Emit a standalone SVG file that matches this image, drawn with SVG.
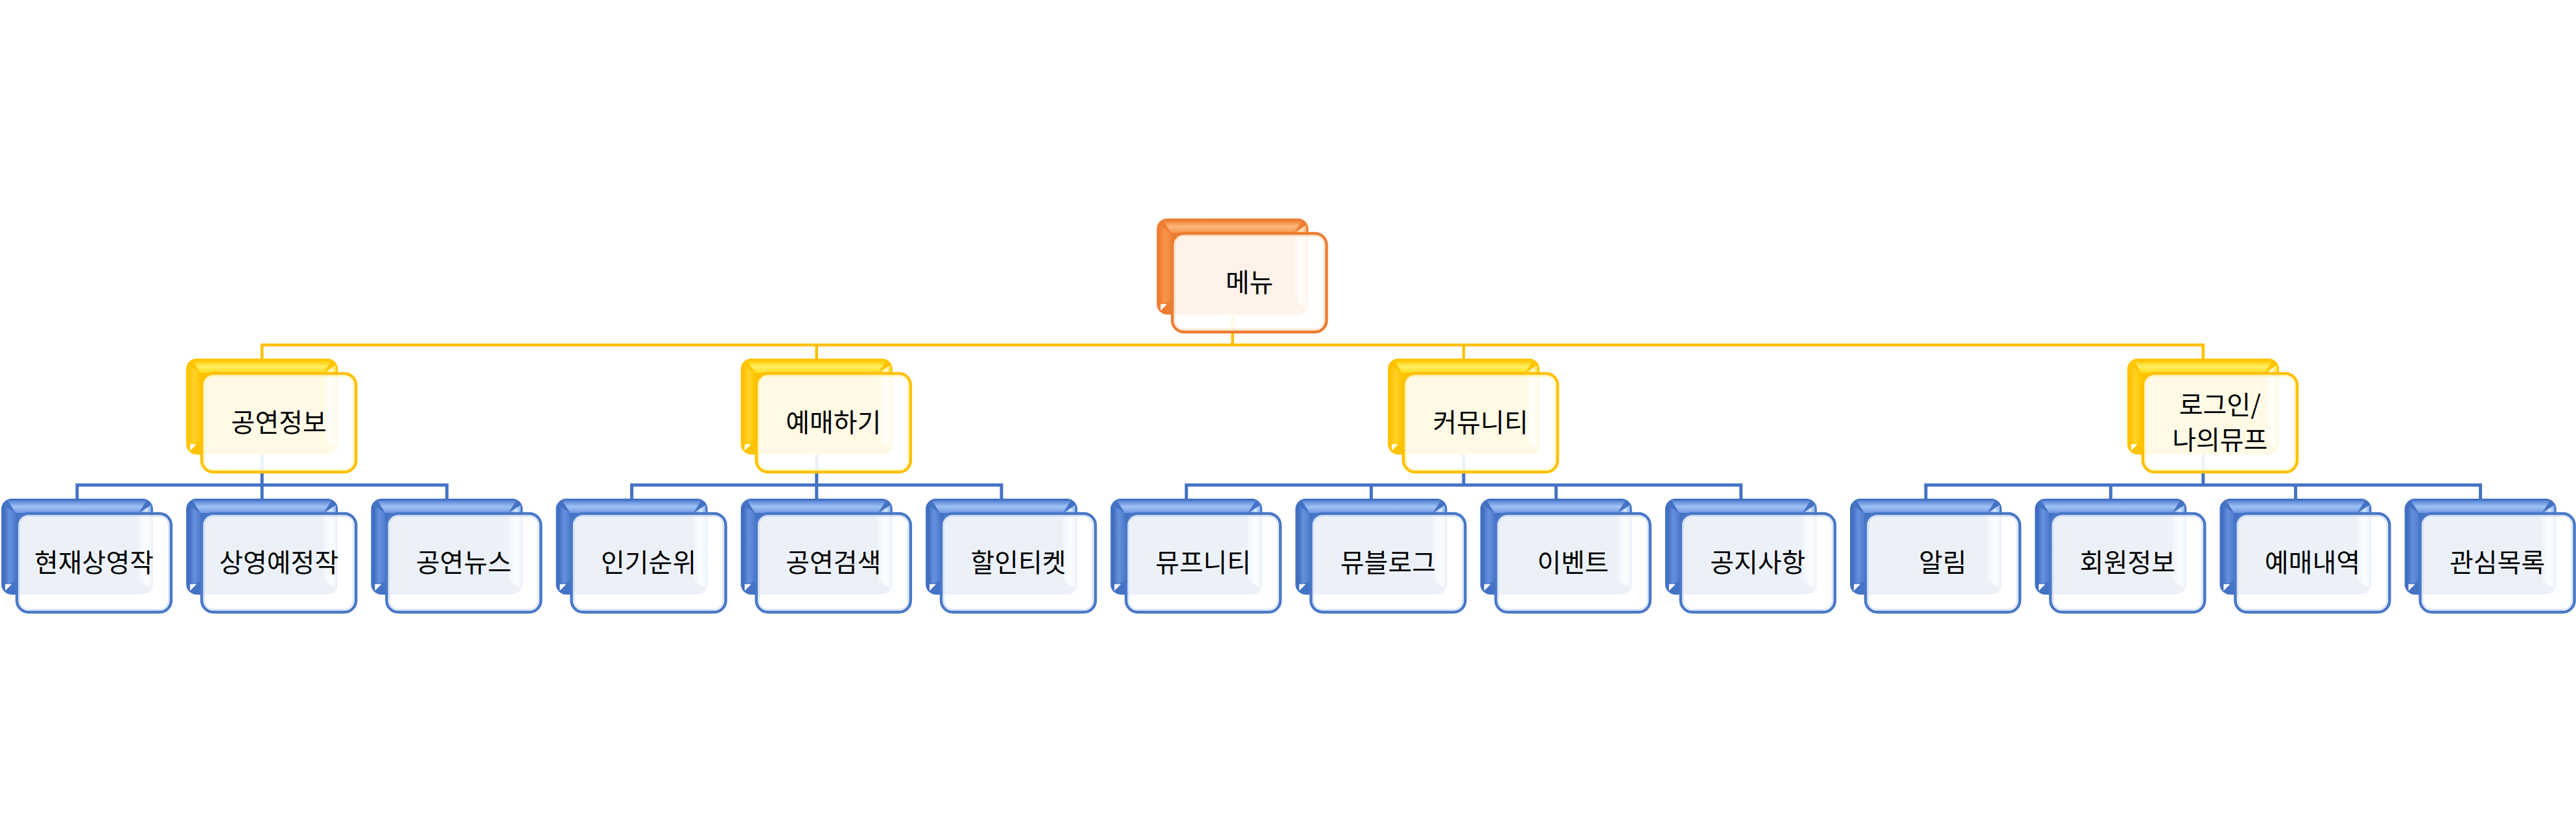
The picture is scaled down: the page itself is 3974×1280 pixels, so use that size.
<svg xmlns="http://www.w3.org/2000/svg" xmlns:xlink="http://www.w3.org/1999/xlink" width="3974" height="1280" viewBox="0 0 3974 1280">
<style>
.conn{fill:none;stroke-width:4.5;stroke-linejoin:miter}
.cy{stroke:#FFC000}
.cb{stroke:#4472C4;stroke-width:5}
.fb{fill:#fff;fill-opacity:0.9;stroke-width:4.5}
.fo{stroke:#ED7D31}
.fy{stroke:#FFC000}
.fbl{stroke:#4A78C8}
.hi{fill:none;stroke-width:2;stroke-opacity:0.7}
.ho{stroke:#FFD9B0}
.hy{stroke:#FFF2A0}
.hb{stroke:#C6D8F6}
.t{font-family:"Noto Sans CJK KR","Noto Sans CJK SC",sans-serif;font-size:40px;fill:#000;text-anchor:middle}
</style>
<defs>
<linearGradient id="bTop" x1="0" y1="0" x2="0" y2="1"><stop offset="0" stop-color="#5784D6"/><stop offset="0.5" stop-color="#A0C2F4"/><stop offset="1" stop-color="#7099E4"/></linearGradient>
<linearGradient id="bLeft" x1="0" y1="0" x2="1" y2="0"><stop offset="0" stop-color="#3B68BC"/><stop offset="0.5" stop-color="#6690DC"/><stop offset="1" stop-color="#4E7CCE"/></linearGradient>
<linearGradient id="bRight" x1="0" y1="0" x2="1" y2="0"><stop offset="0" stop-color="#6E9AE6"/><stop offset="0.6" stop-color="#D8E8FF"/><stop offset="1" stop-color="#88B0EE"/></linearGradient>
<linearGradient id="yTop" x1="0" y1="0" x2="0" y2="1"><stop offset="0" stop-color="#FFC800"/><stop offset="0.5" stop-color="#FFEE60"/><stop offset="1" stop-color="#FFDC20"/></linearGradient>
<linearGradient id="yLeft" x1="0" y1="0" x2="1" y2="0"><stop offset="0" stop-color="#FFBE00"/><stop offset="0.5" stop-color="#FFD228"/><stop offset="1" stop-color="#FFC600"/></linearGradient>
<linearGradient id="yRight" x1="0" y1="0" x2="1" y2="0"><stop offset="0" stop-color="#FFD000"/><stop offset="0.6" stop-color="#FFFAD0"/><stop offset="1" stop-color="#FFE040"/></linearGradient>
<linearGradient id="oTop" x1="0" y1="0" x2="0" y2="1"><stop offset="0" stop-color="#EE8034"/><stop offset="0.5" stop-color="#FDB77A"/><stop offset="1" stop-color="#F39650"/></linearGradient>
<linearGradient id="oLeft" x1="0" y1="0" x2="1" y2="0"><stop offset="0" stop-color="#EC7A2E"/><stop offset="0.5" stop-color="#F5964A"/><stop offset="1" stop-color="#F08638"/></linearGradient>
<linearGradient id="oRight" x1="0" y1="0" x2="1" y2="0"><stop offset="0" stop-color="#F39A50"/><stop offset="0.6" stop-color="#FFE8C8"/><stop offset="1" stop-color="#F6AE6E"/></linearGradient>
<g id="backB">
<rect width="234" height="148" rx="16" fill="#4472C4"/>
<path d="M10 3 H224 L212 22 H22 Z" fill="url(#bTop)"/>
<path d="M3 10 L22 22 V126 L3 138 Z" fill="url(#bLeft)"/>
<path d="M231 10 L212 22 V126 L231 138 Z" fill="url(#bRight)"/>
<path d="M6 132 L16 132 L6 142 Z" fill="#fff"/>
</g>
<g id="backY">
<rect width="234" height="148" rx="16" fill="#FFC400"/>
<path d="M10 3 H224 L212 22 H22 Z" fill="url(#yTop)"/>
<path d="M3 10 L22 22 V126 L3 138 Z" fill="url(#yLeft)"/>
<path d="M231 10 L212 22 V126 L231 138 Z" fill="url(#yRight)"/>
<path d="M6 132 L16 132 L6 142 Z" fill="#fff"/>
</g>
<g id="backO">
<rect width="234" height="148" rx="16" fill="#ED7D31"/>
<path d="M10 3 H224 L212 22 H22 Z" fill="url(#oTop)"/>
<path d="M3 10 L22 22 V126 L3 138 Z" fill="url(#oLeft)"/>
<path d="M231 10 L212 22 V126 L231 138 Z" fill="url(#oRight)"/>
<path d="M6 132 L16 132 L6 142 Z" fill="#fff"/>
</g>
</defs>
<rect width="3974" height="1280" fill="#fff"/>
<g id="connectors">
<path class="conn cy" d="M1901.5 485 V532"/>
<path class="conn cy" d="M404.2 560 V532 H3398.8 V560"/>
<path class="conn cy" d="M1259.8 532 V560"/>
<path class="conn cy" d="M2258 532 V560"/>
<path class="conn cb" d="M404.2 701 V748"/>
<path class="conn cb" d="M119 776 V748 H689.4 V776"/>
<path class="conn cb" d="M404.2 748 V776"/>
<path class="conn cb" d="M1259.8 701 V748"/>
<path class="conn cb" d="M974.6 776 V748 H1545 V776"/>
<path class="conn cb" d="M1259.8 748 V776"/>
<path class="conn cb" d="M2258 701 V748"/>
<path class="conn cb" d="M1830.2 776 V748 H2685.8 V776"/>
<path class="conn cb" d="M2115.4 748 V776"/>
<path class="conn cb" d="M2400.6 748 V776"/>
<path class="conn cb" d="M3398.8 701 V748"/>
<path class="conn cb" d="M2971 776 V748 H3826.6 V776"/>
<path class="conn cb" d="M3256.2 748 V776"/>
<path class="conn cb" d="M3541.4 748 V776"/>
</g>
<g id="n-root" transform="translate(1784.5 337)"><use xlink:href="#backO"/><rect class="fb fo" x="24" y="23" width="238" height="152" rx="18"/><rect class="hi ho" x="28" y="27" width="230" height="144" rx="14"/><text class="t" x="143" y="113">메뉴</text></g>
<g id="n-1" transform="translate(287.2 553)"><use xlink:href="#backY"/><rect class="fb fy" x="24" y="23" width="238" height="152" rx="18"/><rect class="hi hy" x="28" y="27" width="230" height="144" rx="14"/><text class="t" x="143" y="113">공연정보</text></g>
<g id="n-2" transform="translate(1142.8 553)"><use xlink:href="#backY"/><rect class="fb fy" x="24" y="23" width="238" height="152" rx="18"/><rect class="hi hy" x="28" y="27" width="230" height="144" rx="14"/><text class="t" x="143" y="113">예매하기</text></g>
<g id="n-3" transform="translate(2141 553)"><use xlink:href="#backY"/><rect class="fb fy" x="24" y="23" width="238" height="152" rx="18"/><rect class="hi hy" x="28" y="27" width="230" height="144" rx="14"/><text class="t" x="143" y="113">커뮤니티</text></g>
<g id="n-4" transform="translate(3281.8 553)"><use xlink:href="#backY"/><rect class="fb fy" x="24" y="23" width="238" height="152" rx="18"/><rect class="hi hy" x="28" y="27" width="230" height="144" rx="14"/><text class="t" x="143" y="86">로그인/</text><text class="t" x="143" y="140">나의뮤프</text></g>
<g id="n-1-1" transform="translate(2 769)"><use xlink:href="#backB"/><rect class="fb fbl" x="24" y="23" width="238" height="152" rx="18"/><rect class="hi hb" x="28" y="27" width="230" height="144" rx="14"/><text class="t" x="143" y="113">현재상영작</text></g>
<g id="n-1-2" transform="translate(287.2 769)"><use xlink:href="#backB"/><rect class="fb fbl" x="24" y="23" width="238" height="152" rx="18"/><rect class="hi hb" x="28" y="27" width="230" height="144" rx="14"/><text class="t" x="143" y="113">상영예정작</text></g>
<g id="n-1-3" transform="translate(572.4 769)"><use xlink:href="#backB"/><rect class="fb fbl" x="24" y="23" width="238" height="152" rx="18"/><rect class="hi hb" x="28" y="27" width="230" height="144" rx="14"/><text class="t" x="143" y="113">공연뉴스</text></g>
<g id="n-2-1" transform="translate(857.6 769)"><use xlink:href="#backB"/><rect class="fb fbl" x="24" y="23" width="238" height="152" rx="18"/><rect class="hi hb" x="28" y="27" width="230" height="144" rx="14"/><text class="t" x="143" y="113">인기순위</text></g>
<g id="n-2-2" transform="translate(1142.8 769)"><use xlink:href="#backB"/><rect class="fb fbl" x="24" y="23" width="238" height="152" rx="18"/><rect class="hi hb" x="28" y="27" width="230" height="144" rx="14"/><text class="t" x="143" y="113">공연검색</text></g>
<g id="n-2-3" transform="translate(1428 769)"><use xlink:href="#backB"/><rect class="fb fbl" x="24" y="23" width="238" height="152" rx="18"/><rect class="hi hb" x="28" y="27" width="230" height="144" rx="14"/><text class="t" x="143" y="113">할인티켓</text></g>
<g id="n-3-1" transform="translate(1713.2 769)"><use xlink:href="#backB"/><rect class="fb fbl" x="24" y="23" width="238" height="152" rx="18"/><rect class="hi hb" x="28" y="27" width="230" height="144" rx="14"/><text class="t" x="143" y="113">뮤프니티</text></g>
<g id="n-3-2" transform="translate(1998.4 769)"><use xlink:href="#backB"/><rect class="fb fbl" x="24" y="23" width="238" height="152" rx="18"/><rect class="hi hb" x="28" y="27" width="230" height="144" rx="14"/><text class="t" x="143" y="113">뮤블로그</text></g>
<g id="n-3-3" transform="translate(2283.6 769)"><use xlink:href="#backB"/><rect class="fb fbl" x="24" y="23" width="238" height="152" rx="18"/><rect class="hi hb" x="28" y="27" width="230" height="144" rx="14"/><text class="t" x="143" y="113">이벤트</text></g>
<g id="n-3-4" transform="translate(2568.8 769)"><use xlink:href="#backB"/><rect class="fb fbl" x="24" y="23" width="238" height="152" rx="18"/><rect class="hi hb" x="28" y="27" width="230" height="144" rx="14"/><text class="t" x="143" y="113">공지사항</text></g>
<g id="n-4-1" transform="translate(2854 769)"><use xlink:href="#backB"/><rect class="fb fbl" x="24" y="23" width="238" height="152" rx="18"/><rect class="hi hb" x="28" y="27" width="230" height="144" rx="14"/><text class="t" x="143" y="113">알림</text></g>
<g id="n-4-2" transform="translate(3139.2 769)"><use xlink:href="#backB"/><rect class="fb fbl" x="24" y="23" width="238" height="152" rx="18"/><rect class="hi hb" x="28" y="27" width="230" height="144" rx="14"/><text class="t" x="143" y="113">회원정보</text></g>
<g id="n-4-3" transform="translate(3424.4 769)"><use xlink:href="#backB"/><rect class="fb fbl" x="24" y="23" width="238" height="152" rx="18"/><rect class="hi hb" x="28" y="27" width="230" height="144" rx="14"/><text class="t" x="143" y="113">예매내역</text></g>
<g id="n-4-4" transform="translate(3709.6 769)"><use xlink:href="#backB"/><rect class="fb fbl" x="24" y="23" width="238" height="152" rx="18"/><rect class="hi hb" x="28" y="27" width="230" height="144" rx="14"/><text class="t" x="143" y="113">관심목록</text></g>
</svg>
